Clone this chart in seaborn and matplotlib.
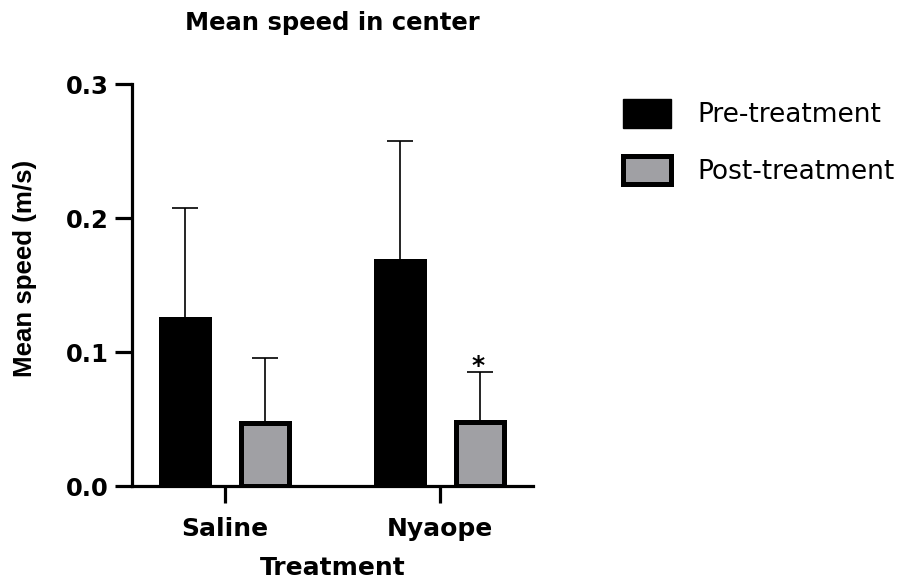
import matplotlib
matplotlib.use("Agg")
import matplotlib.pyplot as plt
from matplotlib.patches import Patch
import numpy as np
import pandas as pd
import seaborn as sns

# Group means and upper error (SD) per treatment phase
groups = ["Saline", "Nyaope"]
phases = ["Pre-treatment", "Post-treatment"]
pre_mean = [0.125, 0.168]
post_mean = [0.047, 0.048]
pre_err = [0.083, 0.090]
post_err = [0.0485, 0.037]
yticks = [0.0, 0.1, 0.2, 0.3]
ytick_labels = ["0.0", "0.1", "0.2", "0.3"]

PRE_COLOR = "#000000"
POST_COLOR = "#A0A0A4"

sns.set_style("ticks")
plt.rcParams["font.family"] = ["DejaVu Sans"]
plt.rcParams.update({
    "text.color": "black", "axes.labelcolor": "black",
    "axes.edgecolor": "black", "xtick.color": "black", "ytick.color": "black",
})

df = pd.DataFrame({
    "Treatment": groups * 2,
    "Phase": [phases[0]] * 2 + [phases[1]] * 2,
    "Mean": pre_mean + post_mean,
    "Err": pre_err + post_err,
})

fig = plt.figure(figsize=(9.12, 5.86), dpi=100)
ax = fig.add_axes([0.1447, 0.1706, 0.4397, 0.6855])

sns.barplot(
    data=df, x="Treatment", y="Mean", hue="Phase", order=groups,
    hue_order=phases, palette={phases[0]: PRE_COLOR, phases[1]: POST_COLOR},
    saturation=1, width=0.744, gap=0.4, errorbar=None,
    edgecolor="black", linewidth=3.6, ax=ax, legend=False, zorder=3,
)

# Upper-only error bars at each bar centre
for container, phase in zip(ax.containers, phases):
    sub = df[df["Phase"] == phase].set_index("Treatment").loc[groups]
    xs = [p.get_x() + p.get_width() / 2 for p in container.patches]
    ax.errorbar(
        xs, sub["Mean"].values,
        yerr=[np.zeros(len(xs)), sub["Err"].values],
        fmt="none", ecolor="black", elinewidth=1.2, capsize=9.7,
        capthick=1.2, zorder=2,
    )
    if phase == phases[1]:
        top = sub["Mean"].values[1] + sub["Err"].values[1]
        ax.annotate("*", (xs[1], top), xytext=(-1, -4),
                    textcoords="offset points", ha="center", va="bottom",
                    fontsize=18, fontweight="bold")

ax.set_xlim(-0.433, 1.433)
ax.set_ylim(0, 0.3)
ax.set_yticks(yticks)
ax.set_yticklabels(ytick_labels)

sns.despine(ax=ax)
for side in ["left", "bottom"]:
    ax.spines[side].set_linewidth(2.3)
ax.tick_params(axis="both", length=12, width=2.3, labelsize=17.5)
ax.tick_params(axis="y", pad=5)
ax.tick_params(axis="x", pad=10, labelsize=18)
for lbl in ax.get_xticklabels() + ax.get_yticklabels():
    lbl.set_fontweight("bold")

ax.set_title("Mean speed in center", fontsize=17.5, fontweight="bold", pad=39)
ax.set_xlabel("Treatment", fontsize=18, fontweight="bold", labelpad=11)
ax.set_ylabel("Mean speed (m/s)", fontsize=18.6, fontweight="bold",
              family="Liberation Sans")
ax.yaxis.set_label_coords(-0.237, 0.541)

handles = [
    Patch(facecolor=PRE_COLOR, edgecolor="black", linewidth=1.0),
    Patch(facecolor=POST_COLOR, edgecolor="black", linewidth=3.6),
]
fig.legend(
    handles, phases, loc="upper left", bbox_to_anchor=(0.672, 0.849),
    frameon=False, fontsize=19, handlelength=1.82, handleheight=1.3,
    handletextpad=0.98, labelspacing=1.04, borderaxespad=0,
)

fig.savefig("out.png", dpi=100)
